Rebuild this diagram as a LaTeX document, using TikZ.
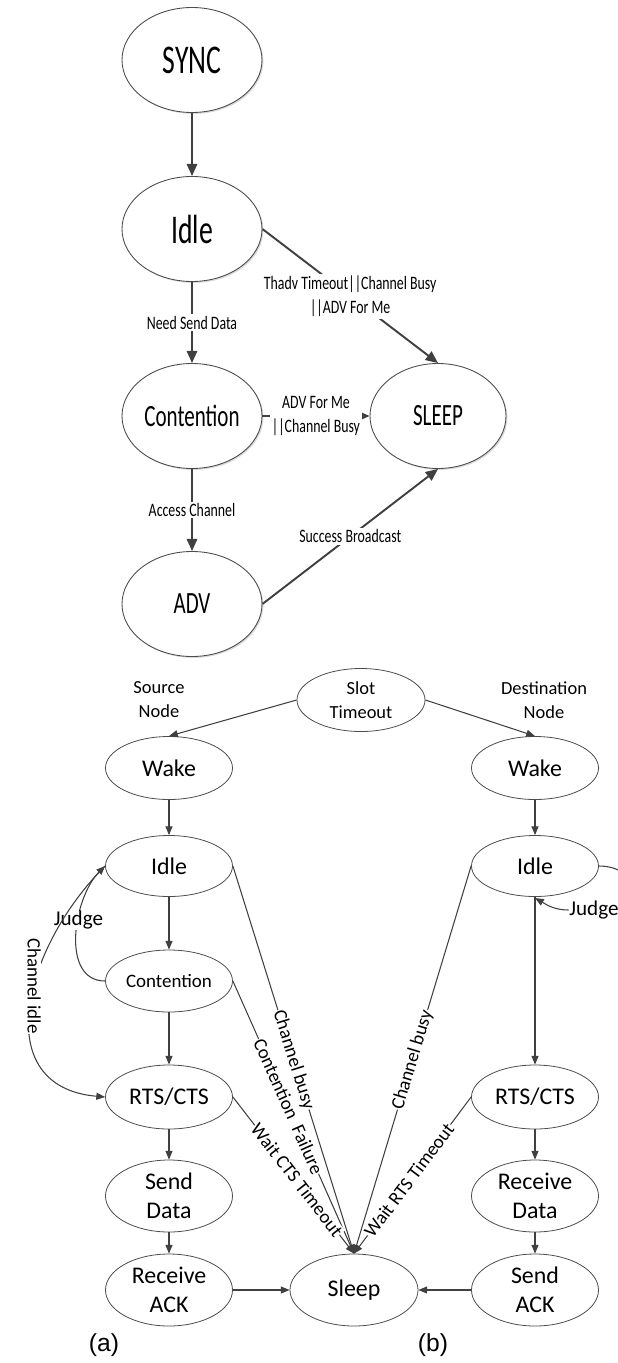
\documentclass[tikz,border=0pt]{standalone}
\usepackage{fontspec}
\setmainfont{Carlito}
\newfontfamily\narrowfont[FakeStretch=0.68]{Carlito}
\newfontfamily\labelfont[FakeStretch=0.73]{Carlito}
\newfontfamily\arialfont{Liberation Sans}
\usetikzlibrary{shapes.geometric,arrows.meta,shadows}

\begin{document}
\begin{tikzpicture}[x=0.2mm, y=0.2mm,
    big/.style={ellipse, draw=black!70, line width=0.5pt, fill=white, inner sep=0pt,
      minimum width=2.8cm, minimum height=2.1cm,
      drop shadow={shadow xshift=0.8pt, shadow yshift=-0.8pt, opacity=0.3, fill=black!50}},
    st/.style={ellipse, draw=black!70, line width=0.45pt, fill=white, inner sep=0pt,
      minimum width=2.54cm, minimum height=1.26cm, align=center,
      font=\fontsize{13.6}{16.5}\selectfont},
    bigarr/.style={color=black!75, line width=1.1pt, -{Triangle[length=7pt, width=6pt]}},
    arr/.style={color=black!75, line width=0.6pt, -{Triangle[length=5pt, width=4pt]}},
    lbl/.style={fill=white, text=black, inner sep=1pt, align=center, font=\labelfont\fontsize{10.8}{14}\selectfont},
    elbl/.style={fill=white, text=black, inner sep=0.3pt, font=\fontsize{10.8}{13}\selectfont},
  ]
    \useasboundingbox (0,0) rectangle (617,-1363);

    % (a) SYNC / ADV states
    \node[big, font=\narrowfont\fontsize{23.2}{28}\selectfont] (SYNC) at (192,-60) {SYNC};
    \node[big, font=\narrowfont\fontsize{23.2}{28}\selectfont] (IDLE) at (192,-229) {Idle};
    \node[big, font=\narrowfont\fontsize{17.6}{21}\selectfont] (CONT) at (192,-416) {Contention};
    \node[big, font=\narrowfont\fontsize{17.6}{21}\selectfont, minimum width=2.72cm] (SLEEP) at (438,-416) {SLEEP};
    \node[big, font=\narrowfont\fontsize{17.6}{21}\selectfont] (ADV) at (192,-604) {ADV};

    \path[bigarr] (SYNC) edge (IDLE);
    \path[bigarr] (IDLE) edge node[lbl] {Need Send Data} (CONT);
    \path[bigarr] (CONT) edge node[lbl] {Access Channel} (ADV);
    \path[bigarr] (CONT) edge node[lbl] {ADV For Me\\||Channel Busy} (SLEEP);
    \path[bigarr] (IDLE.east) edge node[lbl] {Thadv Timeout||Channel Busy\\||ADV For Me} (SLEEP.north);
    \path[bigarr] (ADV.east) edge node[lbl] {Success Broadcast} (SLEEP.south);

    % source / destination states
    \node[align=center, font=\fontsize{10.5}{13.6}\selectfont] (Src) at (159,-700) {Source\\Node};
    \node[st, font=\fontsize{10.5}{13.6}\selectfont, minimum width=2.56cm] (T) at (361,-700) {Slot\\Timeout};
    \node[align=center, font=\fontsize{10.5}{13.6}\selectfont] (Dst) at (544,-700) {Destination\\Node};

    \node[st] (Wa) at (169,-768) {Wake};
    \node[st] (Wb) at (535,-768) {Wake};
    \node[st, minimum height=1.22cm] (Ia) at (169,-866) {Idle};
    \node[st, minimum height=1.22cm] (Ib) at (535,-866) {Idle};
    \node[st, minimum height=1.24cm, font=\fontsize{10.8}{13}\selectfont] (Ca) at (169,-981) {Contention};
    \node[st, minimum height=1.28cm] (Ra) at (169,-1097) {RTS/CTS};
    \node[st, minimum height=1.28cm] (Rb) at (535,-1097) {RTS/CTS};
    \node[st, minimum height=1.44cm] (Da) at (169,-1196) {Send\\Data};
    \node[st, minimum height=1.44cm] (Db) at (535,-1196) {Receive\\Data};
    \node[st, minimum height=1.44cm] (Ka) at (169,-1290) {Receive\\ACK};
    \node[st, minimum height=1.44cm, minimum width=2.56cm] (S) at (354,-1290) {Sleep};
    \node[st, minimum height=1.44cm] (Kb) at (535,-1290) {Send\\ACK};

    \path[arr] (T.west) edge (Wa.north);
    \path[arr] (T.east) edge (Wb.north);
    \path[arr] (Wa) edge (Ia);
    \path[arr] (Wb) edge (Ib);
    \path[arr] (Ia) edge (Ca);
    \path[arr] (Ca) edge (Ra);
    \path[arr] (Ra) edge (Da);
    \path[arr] (Da) edge (Ka);
    \path[arr] (Ib) edge (Rb);
    \path[arr] (Rb) edge (Db);
    \path[arr] (Db) edge (Kb);
    \path[arr] (Ka) edge (S);
    \path[arr] (Kb) edge (S);

    \path[arr] (Ia.east) edge node[elbl, sloped] {Channel busy} (S.north);
    \path[arr] (Ca.east) edge node[elbl, sloped, pos=0.46] {Contention~~Failure} (S.north);
    \path[arr] (Ra.east) edge node[elbl, sloped, pos=0.53] {Wait CTS Timeout} (S.north);
    \path[arr] (Ib.west) edge node[elbl, sloped] {Channel busy} (S.north);
    \path[arr] (Rb.west) edge node[elbl, sloped, pos=0.53] {Wait RTS Timeout} (S.north);

    % judge loops
    \path[arr] (Ca.west) edge[out=180, in=225] node[elbl, pos=0.6, font=\fontsize{12}{14}\selectfont] {Judge} (Ia.west);
    \path[arr] (Ia.west) edge[out=225, in=175, looseness=1.3] node[elbl, rotate=-90, pos=0.42] {Channel idle} (Ra.west);

    \coordinate (J) at (535,-898);
    \node[elbl, font=\fontsize{12}{14}\selectfont] (Jb) at (594,-910) {Judge};
    \draw[color=black!75, line width=0.6pt] (Ib.east) .. controls (640,-866) and (645,-910) .. (Jb.east);
    \path[arr] (Jb.west) edge[out=180, in=-30] (J);

    \node[font=\arialfont\fontsize{14}{16}\selectfont] (capA) at (104,-1345) {(a)};
    \node[font=\arialfont\fontsize{14}{16}\selectfont] (capB) at (433,-1345) {(b)};
\end{tikzpicture}
\end{document}
